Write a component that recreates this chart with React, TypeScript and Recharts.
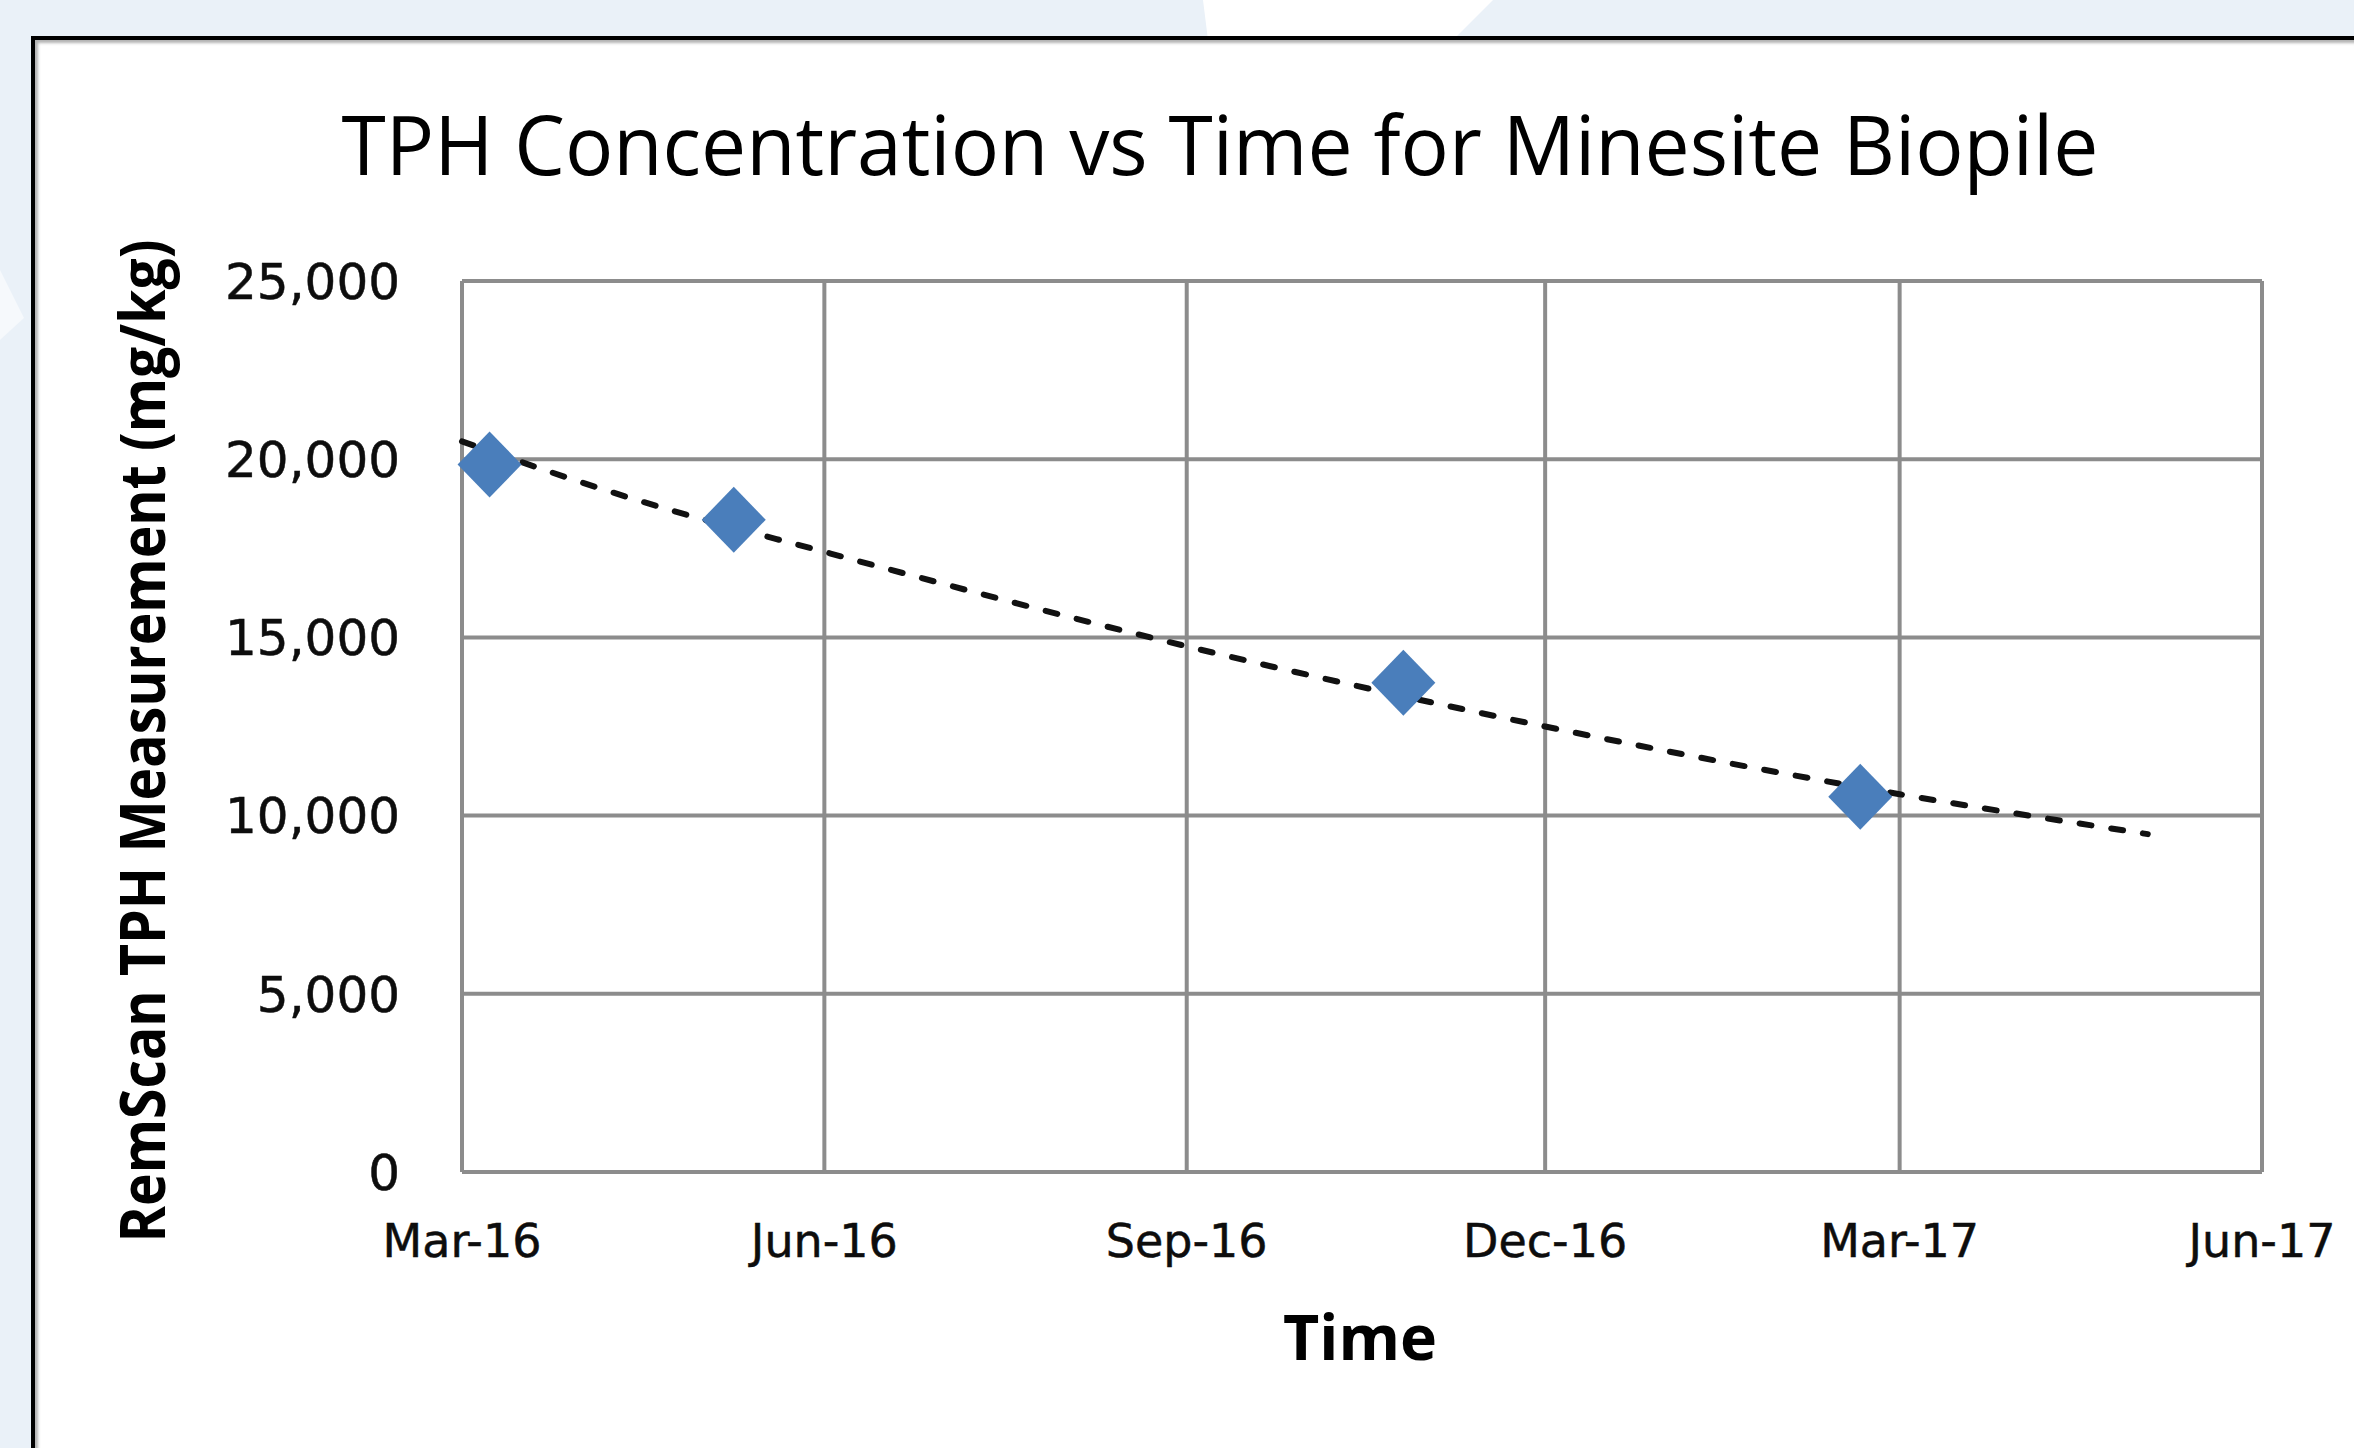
import React from "react";
import { ComposedChart, Scatter, Line, XAxis, YAxis, CartesianGrid } from "recharts";

// days counted from 1 Mar 2016
const sampleDays = [7, 69, 239, 355];
const sampleTph = [19850, 18300, 13730, 10530];

// points
const trendDays = [0, 46, 92, 184, 275, 365, 428];
const trendTph = [20500, 18800, 17400, 14750, 12500, 10600, 9480];

const tickDays = [0, 92, 184, 275, 365, 457];
const tickLabels = ["Mar-16", "Jun-16", "Sep-16", "Dec-16", "Mar-17", "Jun-17"];
const yTicks = [0, 5000, 10000, 15000, 20000, 25000];

const samples = sampleDays.map((day, i) => ({ day, tph: sampleTph[i] }));
const trend = trendDays.map((day, i) => ({ day, tph: trendTph[i] }));

const GRID = "#8c8c8c";
const BLUE = "#4A7EBB";

function Diamond(props: any): React.ReactElement {
  const { cx, cy } = props;
  return (
    <polygon
      points={`${cx},${cy - 33} ${cx + 32},${cy} ${cx},${cy + 33} ${cx - 32},${cy}`}
      fill={BLUE}
    />
  );
}

export default function App(): React.ReactElement {
  const tickFont = { fontSize: 50, fill: "#0d0d0d", stroke: "#0d0d0d", strokeWidth: 0.5, fontFamily: "DejaVu Sans" };
  return (
    <div style={{ position: "absolute", left: 0, top: 0, width: 2354, height: 1448, overflow: "hidden", background: "#eaf1f8" }}>
      <svg width={2354} height={1448} style={{ position: "absolute", left: 0, top: 0 }}>
        <polygon points="1203,0 1493,0 1453,40 1208,40" fill="#ffffff" />
        <polygon points="0,270 24,318 0,340" fill="#f6f9fc" />
      </svg>
      <div
        style={{
          position: "absolute",
          left: 31,
          top: 36,
          width: 2400,
          height: 1500,
          background: "#ffffff",
          borderTop: "4px solid #000",
          borderLeft: "4px solid #000",
          boxShadow: "inset 3px 3px 3px rgba(0,0,0,0.3)",
        }}
      />
      <div style={{ position: "absolute", left: 0, top: 0 }}>
        <ComposedChart width={2354} height={1448} margin={{ top: 281, right: 92, bottom: 176, left: 262 }}>
          <CartesianGrid stroke={GRID} strokeWidth={4} />
          <XAxis
            type="number"
            dataKey="day"
            domain={[0, 457]}
            ticks={tickDays}
            interval={0}
            tickFormatter={(d: number) => tickLabels[tickDays.indexOf(d)]}
            axisLine={false}
            tickLine={false}
            tickSize={0}
            tickMargin={52}
            height={100}
            tick={{ ...tickFont, fontSize: 46 }}
          />
          <YAxis
            type="number"
            dataKey="tph"
            domain={[0, 25000]}
            ticks={yTicks}
            interval={0}
            tickFormatter={(v: number) => v.toLocaleString("en-US")}
            axisLine={false}
            tickLine={false}
            tickSize={0}
            tickMargin={62}
            width={200}
            tick={tickFont}
          />
          <Scatter data={samples} dataKey="tph" shape={Diamond} isAnimationActive={false} />
          <Line
            data={trend}
            dataKey="tph"
            type="monotone"
            stroke="#111111"
            strokeWidth={6}
            strokeDasharray="12 20"
            strokeLinecap="round"
            dot={false}
            activeDot={false}
            isAnimationActive={false}
          />
        </ComposedChart>
      </div>
      <svg width={2354} height={1448} style={{ position: "absolute", left: 0, top: 0, pointerEvents: "none" }}>
        <text
          x={1220}
          y={175}
          textAnchor="middle"
          fontFamily="Open Sans"
          fontSize={83}
          fill="#000"
          textLength={1757}
          lengthAdjust="spacingAndGlyphs"
        >
          TPH Concentration vs Time for Minesite Biopile
        </text>
        <text
          transform="translate(165,741) rotate(-90)"
          x={0}
          y={0}
          textAnchor="middle"
          fontFamily="Open Sans"
          fontWeight={700}
          fontSize={63}
          fill="#000"
          textLength={1003}
          lengthAdjust="spacingAndGlyphs"
        >
          RemScan TPH Measurement (mg/kg)
        </text>
        <text
          x={1360}
          y={1360}
          textAnchor="middle"
          fontFamily="Open Sans"
          fontWeight={700}
          fontSize={63}
          fill="#000"
          textLength={154}
          lengthAdjust="spacingAndGlyphs"
        >
          Time
        </text>
      </svg>
    </div>
  );
}
